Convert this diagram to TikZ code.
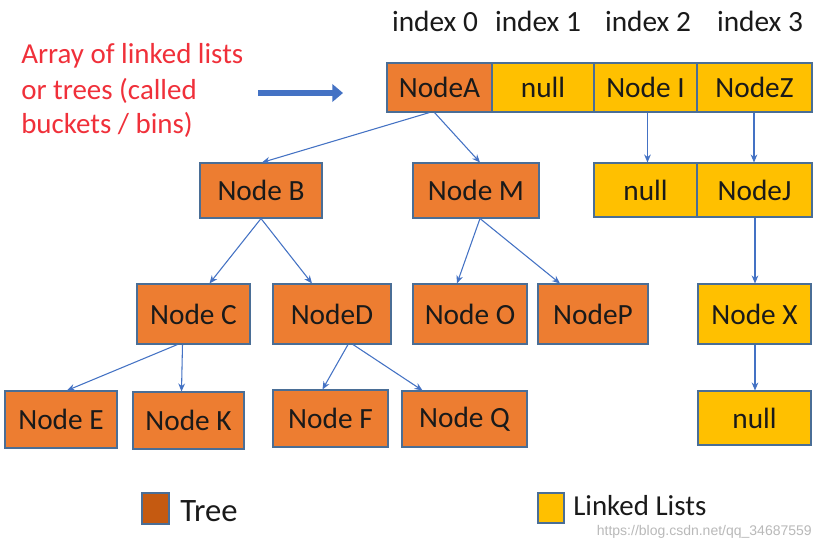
\documentclass[tikz,border=0pt]{standalone}
\usepackage{fontspec}
\setmainfont{Carlito}
\newfontfamily\wmfont{Liberation Sans}
\usetikzlibrary{arrows.meta,calc}
\definecolor{treeor}{HTML}{ED7D31}
\definecolor{listyel}{HTML}{FFC000}
\definecolor{edgecol}{HTML}{4A6E96}
\definecolor{arrcol}{HTML}{4472C4}
\definecolor{redtxt}{HTML}{F0303A}
\definecolor{legtree}{HTML}{C55A11}
\definecolor{txtcol}{HTML}{1A1A1A}
\tikzset{
  cellbox/.style={draw=edgecol, line width=0.8pt, inner sep=0pt, font=\fontsize{22}{26}\selectfont, text=txtcol},
  tree/.style={cellbox, fill=treeor},
  list/.style={cellbox, fill=listyel},
  link/.style={draw=arrcol, line width=0.8pt, -{Stealth[length=6pt,width=5pt]}},
  idx/.style={font=\fontsize{22}{26}\selectfont, text=txtcol, anchor=base, inner sep=0pt},
  redline/.style={font=\fontsize{21.7}{26}\selectfont, text=redtxt, anchor=base west, inner sep=0pt},
}
\newcommand{\bx}[7]{\node[#6, minimum width={(#4-#2)*0.75pt}, minimum height={(#5-#3)*0.75pt}] (#1) at ({(#2+#4)/2},{(#3+#5)/2}) {#7};}
\begin{document}
\begin{tikzpicture}[x=0.75pt,y=-0.75pt]
\useasboundingbox[fill=white] (0,0) rectangle (822,540);
% red text
\node[redline] (t1) at (21,63) {Array of linked lists};
\node[redline] (t2) at (21,99) {or trees (called};
\node[redline] (t3) at (21,133) {buckets / bins)};
% big arrow
\coordinate (ba) at (258,93);
\coordinate (bb) at (343,93);
\draw[draw=arrcol, line width=5pt, -{Triangle[length=8pt,width=13pt]}] (ba) -- (bb);
% index labels
\node[idx] (i0) at (435,31) {index 0};
\node[idx] (i1) at (538,31) {index 1};
\node[idx] (i2) at (648,31) {index 2};
\node[idx] (i3) at (760,31) {index 3};
% array row
\bx{A}{387}{63}{492}{112}{tree}{NodeA}
\bx{N1}{492}{63}{594}{112}{list}{null}
\bx{I}{594}{63}{697}{112}{list}{Node I}
\bx{Z}{697}{63}{812}{112}{list}{NodeZ}
% row 2
\bx{B}{200}{163}{322}{218}{tree}{Node B}
\bx{M}{413}{163}{539}{218}{tree}{Node M}
\bx{N2}{594}{163}{697}{217}{list}{null}
\bx{J}{697}{163}{812}{217}{list}{NodeJ}
% row 3
\bx{C}{137}{284}{250}{344}{tree}{Node C}
\bx{D}{273}{284}{391}{344}{tree}{NodeD}
\bx{O}{413}{284}{527}{344}{tree}{Node O}
\bx{P}{538}{284}{648}{344}{tree}{NodeP}
\bx{X}{698}{284}{811}{344}{list}{Node X}
% row 4
\bx{E}{5}{391}{117}{448}{tree}{Node E}
\bx{K}{133}{392}{244}{449}{tree}{Node K}
\bx{F}{273}{390}{388}{447}{tree}{Node F}
\bx{Q}{402}{391}{527}{447}{tree}{Node Q}
\bx{N3}{698}{391}{811}{445}{list}{null}
% connectors
\draw[link] ([xshift=-10*0.75pt]A.south) -- ([xshift=1*0.75pt]B.north);
\draw[link] ([xshift=-5*0.75pt]A.south) -- ([xshift=4*0.75pt]M.north);
\draw[link] ([xshift=2*0.75pt]I.south) -- ([xshift=2*0.75pt]N2.north);
\draw[link] ([xshift=-0.5*0.75pt]Z.south) -- ([xshift=-0.5*0.75pt]J.north);
\draw[link] (B.south) -- ([xshift=16*0.75pt]C.north);
\draw[link] (B.south) -- ([xshift=-20*0.75pt]D.north);
\draw[link] ([xshift=4*0.75pt]M.south) -- ([xshift=-13*0.75pt]O.north);
\draw[link] ([xshift=4*0.75pt]M.south) -- ([xshift=-33*0.75pt]P.north);
\draw[link] ([xshift=0.5*0.75pt]J.south) -- ([xshift=0.5*0.75pt]X.north);
\draw[link] ([xshift=-16*0.75pt]C.south) -- ([xshift=6*0.75pt]E.north);
\draw[link] ([xshift=-11*0.75pt]C.south) -- ([xshift=-7*0.75pt]K.north);
\draw[link] ([xshift=16*0.75pt]D.south) -- ([xshift=-8*0.75pt]F.north);
\draw[link] ([xshift=21*0.75pt]D.south) -- ([xshift=-42*0.75pt]Q.north);
\draw[link] ([xshift=0.5*0.75pt]X.south) -- ([xshift=0.5*0.75pt]N3.north);
% legend
\bx{LT}{142}{493}{169}{524}{cellbox, fill=legtree}{}
\node[font=\fontsize{24.5}{28}\selectfont, text=txtcol, anchor=base west, inner sep=0pt] (LTt) at (180,521) {Tree};
\bx{LL}{538}{493}{564}{523}{cellbox, fill=listyel}{}
\node[font=\fontsize{21.7}{25}\selectfont, text=txtcol, anchor=base west, inner sep=0pt] (LLt) at (573,515) {Linked Lists};
% watermark
\node[font=\wmfont\fontsize{10.5}{12}\selectfont, text=gray!55, anchor=base east, inner sep=0pt] (wm) at (812,535) {https://blog.csdn.net/qq\_34687559};
\end{tikzpicture}
\end{document}
